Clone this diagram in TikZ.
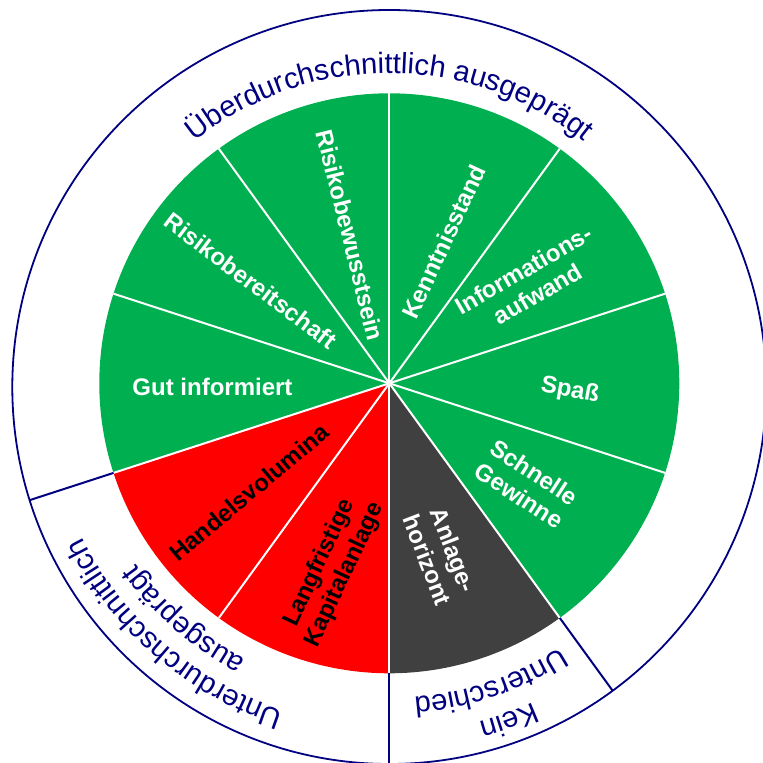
\documentclass[tikz,border=0pt]{standalone}
\usepackage{fontspec}
\setmainfont{Liberation Sans}
\usetikzlibrary{decorations.text}
\definecolor{pgreen}{RGB}{0,176,80}
\definecolor{pred}{RGB}{255,0,0}
\definecolor{pgray}{RGB}{64,64,64}
\definecolor{ringblue}{RGB}{0,0,128}
\newcommand\ringfont{\fontsize{29.3}{31}\selectfont}
\begin{document}
\begin{tikzpicture}[x=1pt,y=1pt,
  slicetext/.style={font=\bfseries\fontsize{24}{28}\selectfont, align=center, inner sep=0pt, text=white},
  redtext/.style={slicetext, text=black},
  sepline/.style={white, line width=2pt},
  ringline/.style={ringblue, line width=2pt},
  ringlabel/.style={decorate, decoration={text along path, text align=center, text color=ringblue}}
]
\useasboundingbox (-389.3,-379.7) rectangle (373.7,383.3);
\begin{scope}
\clip (-389.3,-379.7) rectangle (373.7,383.3);
% pie slices
\foreach \a/\c in {90/pgreen,126/pgreen,162/pgreen,198/pred,234/pred,270/pgray,306/pgreen,342/pgreen,18/pgreen,54/pgreen}{
  \fill[\c] (0,0) -- (\a:290) arc[start angle=\a, end angle=\a+36, radius=290] -- cycle;
}
\foreach \a in {18,54,90,126,162,198,234,270,306,342}{
  \draw[sepline] (0,0) -- (\a:290);
}
% outer ring
\draw[ringblue, line width=1.8pt] (0,-3.7) circle[radius=377];
\begin{scope}
\clip (0,-3.7) circle[radius=377];
\foreach \a in {198,270,306}{
  \draw[ringline] (\a:290) -- (\a:430);
}
\end{scope}
% slice labels
\node[slicetext, rotate=-76] (rbw) at (-39,148.3) {Risikobewusstsein};
\node[slicetext, rotate=-37] (rbt) at (-138.6,102.6) {Risikobereitschaft};
\node[slicetext] (gut) at (-176.8,-4) {Gut informiert};
\node[redtext, rotate=40] (hv) at (-140.3,-109) {Handelsvolumina};
\node[redtext, rotate=65] (lk) at (-57,-185.7) {Langfristige\\Kapitalanlage};
\node[slicetext, rotate=-69] (ah) at (51.4,-171.7) {Anlage-\\horizont};
\node[slicetext, rotate=-33] (sg) at (137.4,-100.7) {Schnelle\\Gewinne};
\node[slicetext, rotate=-10] (sp) at (180.7,-7.4) {Spaß};
\node[slicetext, rotate=30] (ia) at (141.4,101.6) {Informations-\\aufwand};
\node[slicetext, rotate=65] (kn) at (54.7,141.6) {Kenntnisstand};
% ring labels
\path[ringlabel, decoration={text={|\ringfont|Überdurchschnittlich ausgeprägt}}]
  (180:310) arc[start angle=180, end angle=0, radius=310];
\path[ringlabel, decoration={text={|\ringfont|Unterdurchschnittlich}}]
  (319.4:344) arc[start angle=319.4, end angle=139.4, radius=344];
\path[ringlabel, decoration={text={|\ringfont|ausgeprägt}}]
  (319:311) arc[start angle=319, end angle=139, radius=311];
\path[ringlabel, decoration={text={|\ringfont|Kein}}]
  (379.6:350) arc[start angle=379.6, end angle=199.6, radius=350];
\path[ringlabel, decoration={text={|\ringfont|Unterschied}}]
  (378.7:315) arc[start angle=378.7, end angle=198.7, radius=315];
\end{scope}
\end{tikzpicture}
\end{document}
